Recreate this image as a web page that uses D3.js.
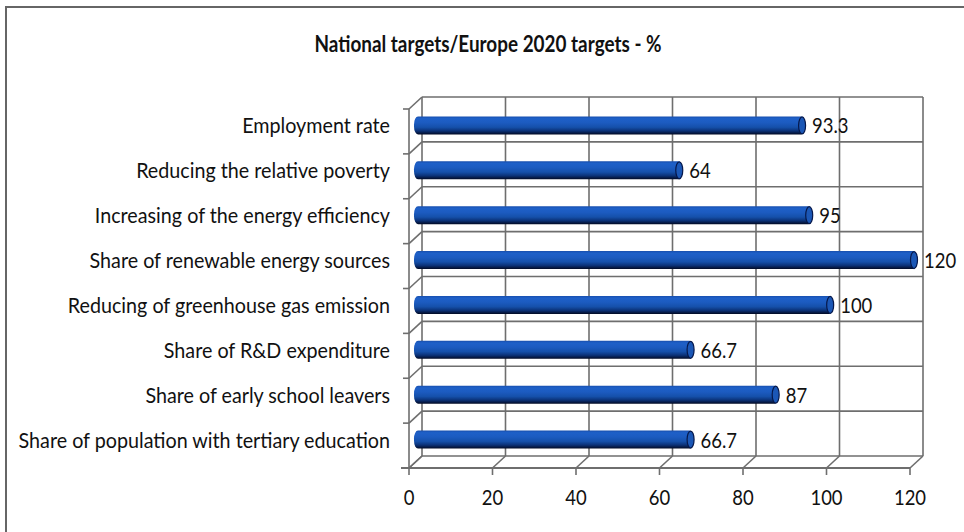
<!DOCTYPE html>
<html>
<head>
<meta charset="utf-8">
<script src="https://cdn.jsdelivr.net/npm/d3@7"></script>
<style>
  body { margin: 0; background: #fff; }
  text { font-family: Lato, "Open Sans", sans-serif; fill: #111; }
</style>
</head>
<body>
<svg id="chart" width="964" height="532"></svg>
<script>
const categories = [
    "Employment rate",
    "Reducing the relative poverty",
    "Increasing of the energy efficiency",
    "Share of renewable energy sources",
    "Reducing of greenhouse gas emission",
    "Share of R&D expenditure",
    "Share of early school leavers",
    "Share of population with tertiary education"
];
const values = [93.3, 64, 95, 120, 100, 66.7, 87, 66.7];
const valueLabels = ["93.3", "64", "95", "120", "100", "66.7", "87", "66.7"];
const xTicks = [0, 20, 40, 60, 80, 100, 120];
const title = "National targets/Europe 2020 targets - %";

let svg = d3.select("#chart");

// squeeze text horizontally, the original font is narrow
function place(x, y, s) {
    return "translate(" + x + "," + y + ") scale(" + s + ",1)";
}

// 3D depth offset of the back wall
let depth = {dx: 13, dy: -12};
let plot = {left: 409, right: 910, top: 109, bottom: 468};

let xFront = d3.scaleLinear().domain([0, 120]).range([plot.left, plot.right]);
let xBack = d3.scaleLinear().domain([0, 120]).range([plot.left + depth.dx, plot.right + depth.dx]);
let xMid = d3.scaleLinear().domain([0, 120]).range([plot.left + 5, plot.right + 7]);

let yFront = d3.scaleBand().domain(categories).range([plot.top, plot.bottom]);
let yBack = d3.scaleBand().domain(categories).range([plot.top + depth.dy, plot.bottom + depth.dy]);
let yMid = d3.scaleBand().domain(categories).range([plot.top - 6, plot.bottom - 6]);

// outer frame
svg.append("rect")
    .attr("x", 6).attr("y", 7)
    .attr("width", 1000).attr("height", 600)
    .style("fill", "none")
    .style("stroke", "#666")
    .style("stroke-width", 2);

svg.append("text")
    .attr("transform", place(488, 52, 0.86))
    .attr("text-anchor", "middle")
    .attr("font-size", 22)
    .attr("font-weight", "bold")
    .text(title);

let grid = svg.append("g")
    .style("stroke", "#6e6e6e")
    .style("stroke-width", 1.6)
    .style("fill", "none");

// back wall vertical gridlines
grid.selectAll("line.vgrid")
    .data(xTicks)
    .enter().append("line")
    .attr("class", "vgrid")
    .attr("x1", d => xBack(d)).attr("x2", d => xBack(d))
    .attr("y1", plot.top + depth.dy).attr("y2", plot.bottom + depth.dy);

// back wall horizontal lines at category boundaries
let bounds = categories.map(c => yBack(c)).concat([plot.bottom + depth.dy]);
grid.selectAll("line.hgrid")
    .data(bounds)
    .enter().append("line")
    .attr("class", "hgrid")
    .attr("x1", xBack(0)).attr("x2", xBack(120))
    .attr("y1", d => d).attr("y2", d => d);

// side wall diagonals and ticks
let frontBounds = categories.map(c => yFront(c)).concat([plot.bottom]);
grid.selectAll("line.sdiag")
    .data(frontBounds)
    .enter().append("line")
    .attr("x1", plot.left).attr("y1", d => d)
    .attr("x2", plot.left + depth.dx).attr("y2", d => d + depth.dy);
grid.selectAll("line.stick")
    .data(frontBounds)
    .enter().append("line")
    .attr("x1", plot.left - 6).attr("y1", d => d)
    .attr("x2", plot.left).attr("y2", d => d);
grid.append("line")
    .attr("x1", plot.left).attr("x2", plot.left)
    .attr("y1", plot.top).attr("y2", plot.bottom);

// floor diagonals and ticks
grid.selectAll("line.fdiag")
    .data(xTicks)
    .enter().append("line")
    .attr("x1", d => xFront(d)).attr("y1", plot.bottom)
    .attr("x2", d => xBack(d)).attr("y2", plot.bottom + depth.dy);
grid.selectAll("line.ftick")
    .data(xTicks)
    .enter().append("line")
    .attr("x1", d => xFront(d)).attr("y1", plot.bottom)
    .attr("x2", d => xFront(d)).attr("y2", plot.bottom + 7);
grid.append("line")
    .attr("x1", plot.left - 8).attr("x2", plot.right)
    .attr("y1", plot.bottom).attr("y2", plot.bottom)
    .style("stroke-width", 2.2);

// bar gradient
let defs = svg.append("defs");
let grad = defs.append("linearGradient")
    .attr("id", "barGrad")
    .attr("x1", 0).attr("y1", 0).attr("x2", 0).attr("y2", 1);
[["0%", "#184fae"], ["12%", "#1e60c8"], ["35%", "#1c5bc0"], ["60%", "#1550aa"], ["80%", "#0b3278"], ["100%", "#020a24"]]
    .forEach(s => grad.append("stop").attr("offset", s[0]).attr("stop-color", s[1]));

let barH = 18;
let bars = svg.selectAll("g.bar")
    .data(categories)
    .enter().append("g")
    .attr("class", "bar");

bars.append("rect")
    .attr("x", xMid(0))
    .attr("y", d => yMid(d) + yMid.bandwidth() / 2 - barH / 2)
    .attr("width", (d, i) => xMid(values[i]) - xMid(0))
    .attr("height", barH)
    .attr("rx", 4).attr("ry", 8)
    .style("fill", "url(#barGrad)");

bars.append("ellipse")
    .attr("cx", (d, i) => xMid(values[i]) - 3)
    .attr("cy", d => yMid(d) + yMid.bandwidth() / 2)
    .attr("rx", 3.5).attr("ry", barH / 2 - 0.5)
    .style("fill", "#1b57b6")
    .style("stroke", "#06184a")
    .style("stroke-width", 1.2);

// value labels
svg.selectAll("text.val")
    .data(categories)
    .enter().append("text")
    .attr("class", "val")
    .attr("transform", (d, i) => place(xMid(values[i]) + 7, yMid(d) + yMid.bandwidth() / 2 + 8, 0.88))
    .attr("font-size", 21)
    .text((d, i) => valueLabels[i]);

// category labels
svg.selectAll("text.cat")
    .data(categories)
    .enter().append("text")
    .attr("class", "cat")
    .attr("transform", d => place(390, yMid(d) + yMid.bandwidth() / 2 + 8, 0.94))
    .attr("text-anchor", "end")
    .attr("font-size", 21)
    .text(d => d);

// x tick labels
svg.selectAll("text.tick")
    .data(xTicks)
    .enter().append("text")
    .attr("class", "tick")
    .attr("transform", d => place(xFront(d), 505, 0.88))
    .attr("text-anchor", "middle")
    .attr("font-size", 21)
    .text(d => d);
</script>
</body>
</html>
